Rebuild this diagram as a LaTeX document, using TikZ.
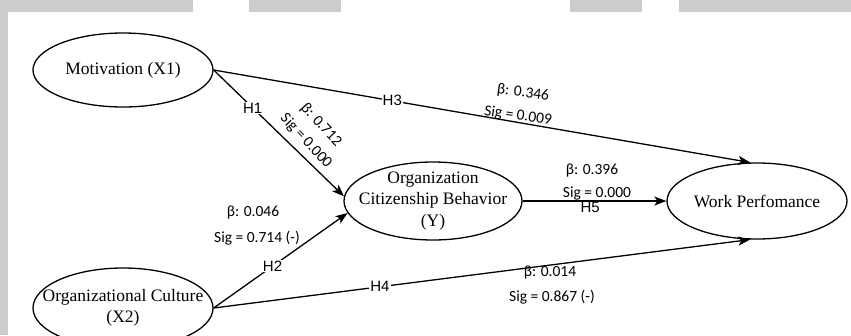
\documentclass[tikz,border=0pt]{standalone}
\usepackage{fontspec}
\setmainfont{Liberation Serif}
\newfontfamily\statfont{Carlito}
\newfontfamily\hypfont{Liberation Sans}
\usetikzlibrary{shapes.geometric,arrows.meta}
\definecolor{framegray}{HTML}{CCCCCC}
\begin{document}
\begin{tikzpicture}[x=1pt,y=-1pt,
  construct/.style={draw, ellipse, line width=1.3pt, inner sep=0pt},
  nodetext/.style={font=\fontsize{17.5}{21.5}\selectfont, align=center},
  path/.style={line width=1.3pt, -{Stealth[length=12pt,width=9pt,inset=3pt]}},
  hyp/.style={font=\hypfont\fontsize{15}{18}\selectfont, fill=white, inner sep=1pt},
  stat/.style={font=\statfont\fontsize{15.5}{18}\selectfont, inner sep=0pt}]
\useasboundingbox (0,0) rectangle (851,335);
\fill[white] (0,0) rectangle (851,335);
% grey frame strips along the top and left edges
\fill[framegray] (0,0) rectangle (193,12);
\fill[framegray] (249,0) rectangle (341,12);
\fill[framegray] (570,0) rectangle (642,12);
\fill[framegray] (679,0) rectangle (851,12);
\fill[framegray] (0,0) rectangle (8,335);

% constructs
\node[construct, minimum width=180pt, minimum height=74pt,
  label={[nodetext]center:Motivation (X1)}] (mot) at (123,70) {};
\node[construct, minimum width=180pt, minimum height=80pt,
  label={[nodetext]center:Organizational Culture\\(X2)}] (oc) at (123,308) {};
\node[construct, minimum width=178pt, minimum height=78pt,
  label={[nodetext]center:Organization\\Citizenship Behavior\\(Y)}] (ocb) at (433,201) {};
\node[construct, minimum width=180pt, minimum height=76pt,
  label={[nodetext]center:Work Perfomance}] (wp) at (757,201) {};

% hypothesised paths
\draw[path] (mot.east) -- node[hyp, pos=0.333] (h3) {H3} (wp.100);
\draw[path] (mot.east) -- node[hyp, pos=0.30] (h1) {H1} (ocb.177);
\draw[path] (oc.east) -- node[hyp, pos=0.44] (h2) {H2} (ocb.188);
\draw[path] (oc.east) -- node[hyp, pos=0.31] (h4) {H4} (wp.260);
\draw[path] (ocb.east) -- node[hyp, pos=0.47, yshift=-6pt, inner sep=0pt] (h5) {H5} (wp.west);

% path coefficients
\node[stat, rotate=-47] (b1) at (321,125) {β: 0.712};
\node[stat, rotate=-47] (s1) at (306,141) {Sig = 0.000};
\node[stat, rotate=-7] (b3) at (523,93) {β: 0.346};
\node[stat, rotate=-8] (s3) at (518,116) {Sig = 0.009};
\node[stat] (b2) at (253,213) {β: 0.046};
\node[stat] (s2) at (257,238) {Sig = 0.714 (-)};
\node[stat] (b5) at (592,171) {β: 0.396};
\node[stat] (s5) at (597,193) {Sig = 0.000};
\node[stat] (b4) at (550,273) {β: 0.014};
\node[stat] (s4) at (552,297) {Sig = 0.867 (-)};
\end{tikzpicture}
\end{document}
